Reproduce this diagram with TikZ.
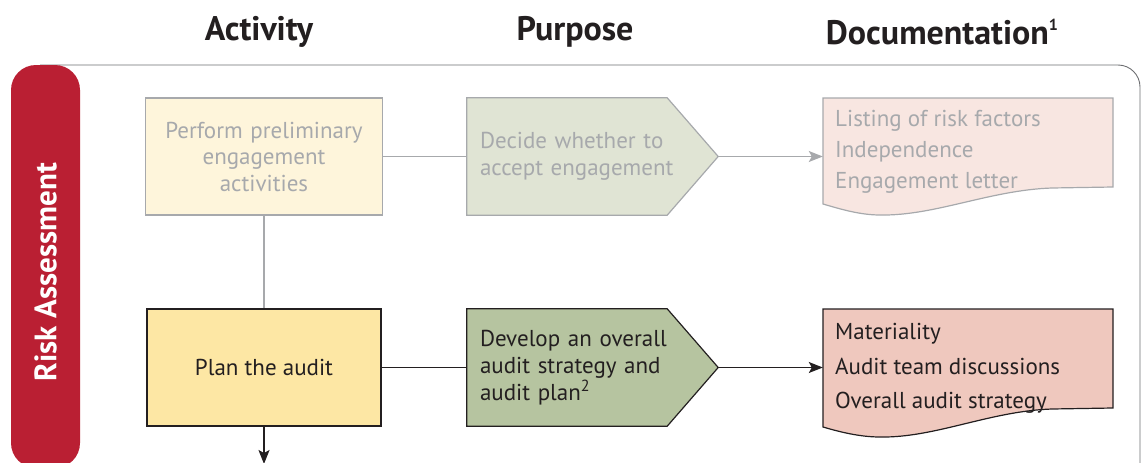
\documentclass[tikz,border=0pt]{standalone}
\usepackage{fontspec}
\setmainfont{PT Sans}
\usetikzlibrary{arrows.meta,backgrounds}
\definecolor{rared}{HTML}{BA1F33}
\definecolor{lgray}{HTML}{A7A9AC}
\definecolor{dtext}{HTML}{231F20}
\definecolor{creamfill}{HTML}{FEF5DB}
\definecolor{yellowfill}{HTML}{FDE7A4}
\definecolor{palegreen}{HTML}{E0E4D4}
\definecolor{sagegreen}{HTML}{B6C4A0}
\definecolor{palepink}{HTML}{F8E6E1}
\definecolor{pinkfill}{HTML}{EFC8BE}
\definecolor{panelline}{HTML}{6D6E71}
\tikzset{
  header/.style={font=\bfseries\fontsize{34}{38}\selectfont, text=dtext},
  bodyfont/.style={font=\fontsize{23}{26.5}\selectfont},
  shapebox/.style={draw=none, fill=none, inner sep=0pt},
  faded/.style={text=lgray},
  strong/.style={text=dtext},
  fadedline/.style={draw=lgray, line width=1.3pt},
  strongline/.style={draw=dtext, line width=1.3pt},
  fadedarrow/.style={fadedline, -{Stealth[length=14pt,width=11pt,inset=3pt]}},
  strongarrow/.style={strongline, -{Stealth[length=14pt,width=11pt,inset=3pt]}},
}
\begin{document}
\begin{tikzpicture}[x=1pt,y=-1pt]
\useasboundingbox (0,0) rectangle (1141,463);

% headers
\node[header] (hact) at (259,32) {Activity};
\node[header] (hpur) at (575,32) {Purpose};
\node[header] (hdoc) at (942,32) {Documentation\raisebox{0.42em}{\fontsize{16}{16}\selectfont 1}};

% panel border
\draw[panelline, line width=0.9pt, rounded corners=22pt] (40,65) -- (1140,65) -- (1140,540);

% red bar
\fill[rared, rounded corners=25pt] (11,65) rectangle (80,468);
\node[rotate=90, text=white, font=\bfseries\fontsize{31}{34}\selectfont] (ra) at (45.5,272) {Risk Assessment};

% row 1
\node[draw=lgray, line width=1.2pt, fill=creamfill, minimum width=234, minimum height=117,
      bodyfont, faded, align=center, text width=230] (b1) at (264,156.5)
      {Perform preliminary\\engagement\\activities};
\node[shapebox, minimum width=251, minimum height=117, bodyfont, faded, align=left, text width=225] (p1) at (592.5,156.5)
      {Decide whether to\\accept engagement};
\node[shapebox, minimum width=290, minimum height=117] (d1) at (968,156.5) {};
\node[anchor=north west, inner sep=0pt, faded, align=left, font=\fontsize{23}{31}\selectfont] (d1t) at (835,110)
      {Listing of risk factors\\Independence\\Engagement letter};

% row 2
\node[draw=dtext, line width=1.2pt, fill=yellowfill, minimum width=234, minimum height=117,
      bodyfont, strong, align=center] (b2) at (264,367.5) {Plan the audit};
\node[shapebox, minimum width=251, minimum height=117, bodyfont, strong, align=left, text width=225,
      font=\fontsize{23}{27}\selectfont] (p2) at (592.5,367.5)
      {Develop an overall\\audit strategy and\\audit plan\textsuperscript{2}};
\node[shapebox, minimum width=290, minimum height=117] (d2) at (968,367.5) {};
\node[anchor=north west, inner sep=0pt, strong, align=left, font=\fontsize{23}{34.5}\selectfont] (d2t) at (835,323.5)
      {Materiality\\Audit team discussions\\Overall audit strategy};
\coordinate (bottomend) at (264,464);

\begin{scope}[on background layer]
  % pentagon 1
  \draw[lgray, line width=1.2pt, fill=palegreen]
    (p1.north west) -- ([xshift=-51pt]p1.north east) -- (p1.east) -- ([xshift=-51pt]p1.south east) -- (p1.south west) -- cycle;
  % pentagon 2
  \draw[dtext, line width=1.2pt, fill=sagegreen]
    (p2.north west) -- ([xshift=-51pt]p2.north east) -- (p2.east) -- ([xshift=-51pt]p2.south east) -- (p2.south west) -- cycle;
  % doc 1
  \draw[lgray, line width=1.2pt, fill=palepink]
    (823,98) -- (1113,98) -- (1113,187) -- (1052,188)
    .. controls (990,190) and (935,216) .. (880,215)
    .. controls (860,215) and (840,209) .. (823,204) -- cycle;
  % doc 2
  \draw[dtext, line width=1.2pt, fill=pinkfill]
    (823,309) -- (1113,309) -- (1113,408) -- (1052,409)
    .. controls (990,411) and (935,438) .. (880,437)
    .. controls (860,437) and (840,432) .. (823,427) -- cycle;
\end{scope}

% connectors
\draw[fadedline] (b1.east) -- (p1.west);
\draw[fadedarrow] (p1.east) -- (d1.west);
\draw[fadedline] (b1.south) -- (b2.north);
\draw[strongline] (b2.east) -- (p2.west);
\draw[strongarrow] (p2.east) -- (d2.west);
\draw[strongarrow] (b2.south) -- (bottomend);
\end{tikzpicture}
\end{document}
